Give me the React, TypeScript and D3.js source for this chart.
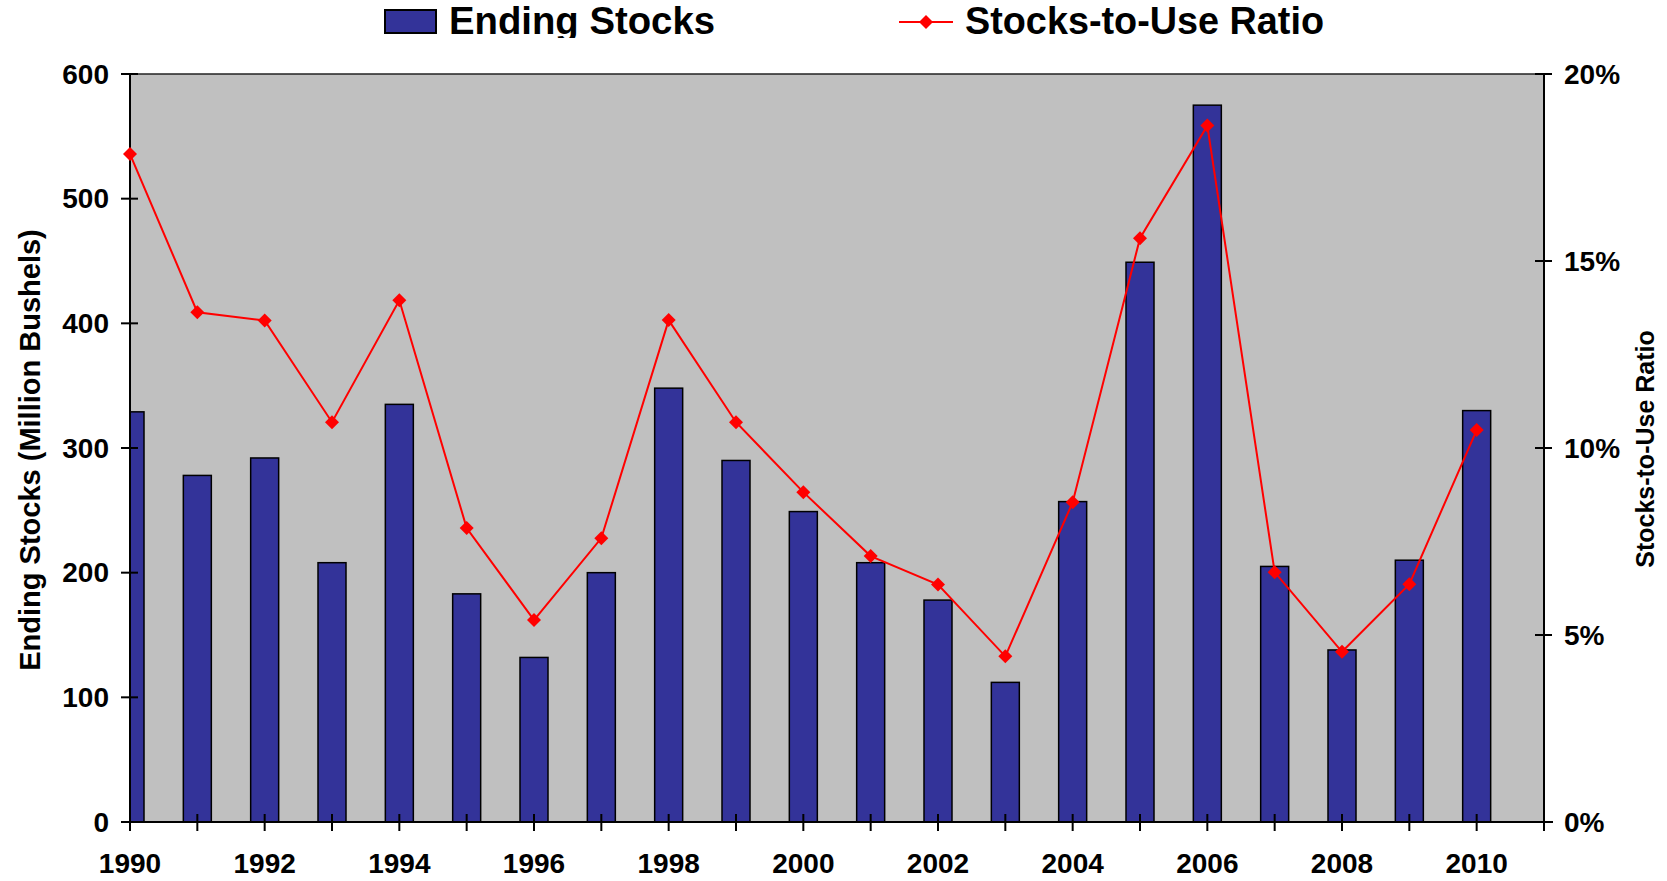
import React from 'react';
import * as d3 from 'd3';

const years = [1990, 1991, 1992, 1993, 1994, 1995, 1996, 1997, 1998, 1999, 2000, 2001, 2002, 2003, 2004, 2005, 2006, 2007, 2008, 2009, 2010];
const endingStocks = [329, 278, 292, 208, 335, 183, 132, 200, 348, 290, 249, 208, 178, 112, 257, 449, 575, 205, 138, 210, 330];
const stocksToUse = [17.86, 13.63, 13.41, 10.69, 13.95, 7.86, 5.4, 7.59, 13.42, 10.69, 8.82, 7.11, 6.35, 4.43, 8.55, 15.61, 18.62, 6.68, 4.55, 6.36, 10.48];
const leftTicks = [0, 100, 200, 300, 400, 500, 600];
const rightTicks = [0, 5, 10, 15, 20];
const xTickYears = d3.range(1990, 2012);
const xLabelYears = [1990, 1992, 1994, 1996, 1998, 2000, 2002, 2004, 2006, 2008, 2010];

const FONT = '"Liberation Sans", Arial, Helvetica, sans-serif';
const BAR = '#333399';
const RED = '#FF0000';

export default function App() {
  const W = 1667;
  const H = 881;
  const L = 130, R = 1544, T = 74, B = 822;
  const x = d3.scaleLinear().domain([1990, 2011]).range([L, R]);
  const yL = d3.scaleLinear().domain([0, 600]).range([B, T]);
  const yR = d3.scaleLinear().domain([0, 20]).range([B, T]);
  const barW = 28;
  const line = d3.line<number>().x((_, i) => x(years[i])).y((d) => yR(d));
  const diamond = (cx: number, cy: number, r: number) =>
    `M${cx},${cy - r}L${cx + r},${cy}L${cx},${cy + r}L${cx - r},${cy}Z`;

  return (
    <svg width={W} height={H} style={{ position: 'absolute', left: 0, top: 0, background: '#fff' }} fontFamily={FONT}>
      <defs>
        <clipPath id="plotClip">
          <rect x={L} y={T - 10} width={R - L} height={B - T + 10} />
        </clipPath>
        <clipPath id="legendClip">
          <rect x={0} y={0} width={W} height={38} />
        </clipPath>
      </defs>
      {/* plot background */}
      <rect x={L} y={T} width={R - L} height={B - T} fill="#C0C0C0" />
      <line x1={L} x2={R} y1={T} y2={T} stroke="#222" strokeWidth={1.5} />
      {/* bars */}
      <g clipPath="url(#plotClip)">
        {endingStocks.map((v, i) => (
          <rect key={i} x={x(years[i]) - barW / 2} y={yL(v)} width={barW} height={B - yL(v)}
            fill={BAR} stroke="#000" strokeWidth={1.5} />
        ))}
      </g>
      {/* axes */}
      <line x1={L} x2={L} y1={T} y2={B} stroke="#000" strokeWidth={2} />
      <line x1={R} x2={R} y1={T} y2={B} stroke="#000" strokeWidth={2} />
      <line x1={L - 9} x2={R + 9} y1={B} y2={B} stroke="#000" strokeWidth={2} />
      {leftTicks.map((t) => (
        <g key={'l' + t}>
          <line x1={L - 9} x2={L + 8} y1={yL(t)} y2={yL(t)} stroke="#000" strokeWidth={2} />
          <text x={L - 21} y={yL(t)} textAnchor="end" dominantBaseline="central" fontSize={28} fontWeight="bold">{t}</text>
        </g>
      ))}
      {rightTicks.map((t) => (
        <g key={'r' + t}>
          <line x1={R - 9} x2={R + 8} y1={yR(t)} y2={yR(t)} stroke="#000" strokeWidth={2} />
          <text x={R + 20} y={yR(t)} textAnchor="start" dominantBaseline="central" fontSize={28} fontWeight="bold">{t + '%'}</text>
        </g>
      ))}
      {xTickYears.map((yr) => (
        <line key={'x' + yr} x1={x(yr)} x2={x(yr)} y1={B - 8} y2={B + 9} stroke="#000" strokeWidth={2} />
      ))}
      {xLabelYears.map((yr) => (
        <text key={'xl' + yr} x={x(yr)} y={873} textAnchor="middle" fontSize={28} fontWeight="bold">{yr}</text>
      ))}
      {/* ratio line */}
      <path d={line(stocksToUse) || ''} fill="none" stroke={RED} strokeWidth={2} />
      {stocksToUse.map((v, i) => (
        <path key={'m' + i} d={diamond(x(years[i]), yR(v), 7)} fill={RED} />
      ))}
      {/* axis titles */}
      <text transform={`translate(30,450) rotate(-90)`} textAnchor="middle" dominantBaseline="central" fontSize={29} fontWeight="bold">
        Ending Stocks (Million Bushels)
      </text>
      <text transform={`translate(1645,449) rotate(-90)`} textAnchor="middle" dominantBaseline="central" fontSize={25} fontWeight="bold">
        Stocks-to-Use Ratio
      </text>
      {/* legend */}
      <g clipPath="url(#legendClip)">
        <rect x={385} y={10} width={51} height={23} fill={BAR} stroke="#000" strokeWidth={2} />
        <text x={449} y={34} fontSize={38} fontWeight="bold" textLength={266} lengthAdjust="spacingAndGlyphs">Ending Stocks</text>
        <line x1={899} x2={953} y1={22} y2={22} stroke={RED} strokeWidth={2} />
        <path d={diamond(926, 22, 7)} fill={RED} />
        <text x={965} y={34} fontSize={38} fontWeight="bold" textLength={359} lengthAdjust="spacingAndGlyphs">Stocks-to-Use Ratio</text>
      </g>
    </svg>
  );
}
